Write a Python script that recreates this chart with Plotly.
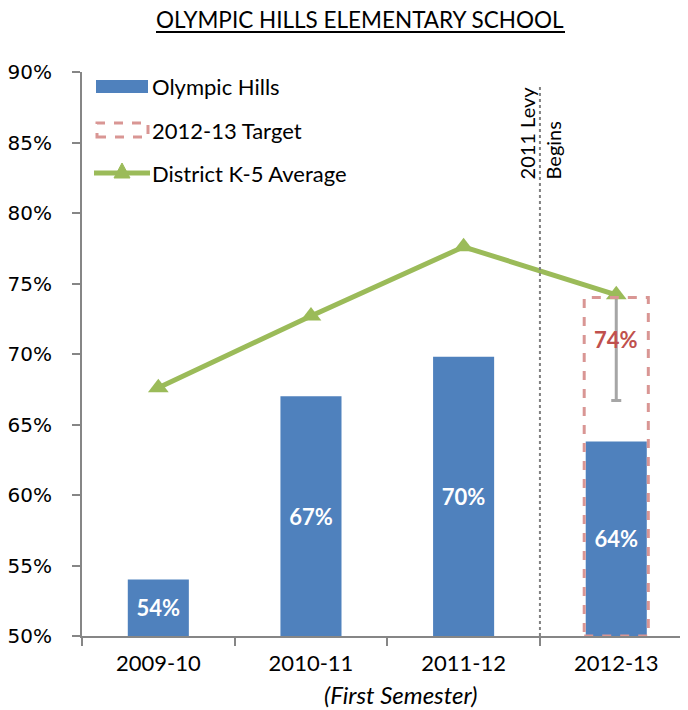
import plotly.graph_objects as go

years = ["2009-10", "2010-11", "2011-12", "2012-13"]
olympic_hills = [54.0, 67.0, 69.8, 63.8]
district_avg = [67.6, 72.7, 77.6, 74.2]
target_year = "2012-13"
target_value = 74.0
gap_low = 66.7  # bottom of the grey gap bar in 2012-13
levy_pos = 2.5  # between 2011-12 and 2012-13
y_ticks = [50, 55, 60, 65, 70, 75, 80, 85, 90]
y_min = 50

BLUE = "#4f81bd"
GREEN = "#9bbb59"
PINK = "#d99694"
RED = "#c0504d"
AXIS = "#868686"
FONT = "Lato"

# the page puts the figure 8px in from the top-left corner
OFF = 8
W, H = 688 - OFF, 710 - OFF
L, R, T, B = 82 - OFF, 0, 72 - OFF, 74
pw, ph = W - L - R, H - T - B


def px_x(x):
    # screen pixel -> paper coordinate
    return (x - OFF - L) / pw


def px_y(y):
    return (H - B - (y - OFF)) / ph


fig = go.Figure()

fig.add_trace(go.Bar(
    x=years, y=[v - y_min for v in olympic_hills], base=y_min, width=0.4,
    marker=dict(color=BLUE, line=dict(width=0)),
    text=[f"<b>{v:.0f}%</b>" for v in olympic_hills],
    texttemplate="%{text}", textposition="inside",
    insidetextanchor="middle", textangle=0,
    textfont=dict(color="white", size=22, family=FONT),
    showlegend=False, hoverinfo="skip",
))

# grey gap bar from district average down to the low point
ti = years.index(target_year)
fig.add_trace(go.Scatter(
    x=[target_year], y=[district_avg[ti]], mode="markers",
    marker=dict(size=1, color="rgba(0,0,0,0)"),
    error_y=dict(type="data", symmetric=False, array=[0],
                 arrayminus=[district_avg[ti] - gap_low],
                 color="#a6a6a6", thickness=3, width=5),
    showlegend=False, hoverinfo="skip",
))

fig.add_trace(go.Scatter(
    x=years, y=district_avg, mode="lines+markers",
    line=dict(color=GREEN, width=5),
    marker=dict(symbol="triangle-up", size=18, color=GREEN),
    showlegend=False, hoverinfo="skip",
))

# target dashed box
fig.add_shape(type="rect", xref="x", yref="y",
              x0=ti - 0.21, x1=ti + 0.21, y0=y_min, y1=target_value,
              line=dict(color=PINK, width=3, dash="dash"))
fig.add_annotation(x=target_year, y=71.0, text=f"<b>{target_value:.0f}%</b>",
                   showarrow=False, font=dict(color=RED, size=22, family=FONT))

# levy line
fig.add_shape(type="line", xref="x", yref="y", x0=levy_pos, x1=levy_pos,
              y0=y_min, y1=89.0, line=dict(color="#808080", width=2, dash="dot"))
fig.add_annotation(x=levy_pos, xref="x", y=px_y(181), yref="paper",
                   text="2011 Levy<br>Begins", textangle=-90, showarrow=False,
                   align="left", xanchor="center", yanchor="bottom",
                   font=dict(size=20, family=FONT, color="black"))

# legend drawn by hand
fig.add_shape(type="rect", xref="paper", yref="paper",
              x0=px_x(96), x1=px_x(148), y0=px_y(93), y1=px_y(80),
              fillcolor=BLUE, line=dict(width=0))
fig.add_shape(type="rect", xref="paper", yref="paper",
              x0=px_x(97), x1=px_x(148), y0=px_y(137), y1=px_y(123),
              line=dict(color=PINK, width=3, dash="dash"))
fig.add_shape(type="line", xref="paper", yref="paper",
              x0=px_x(94), x1=px_x(150), y0=px_y(173), y1=px_y(173),
              line=dict(color=GREEN, width=5))
fig.add_shape(type="path", xref="paper", yref="paper",
              path=f"M {px_x(114)} {px_y(178)} L {px_x(130)} {px_y(178)} "
                   f"L {px_x(122)} {px_y(163)} Z",
              fillcolor=GREEN, line=dict(color=GREEN, width=1))
for label, yy in [("Olympic Hills", 87), ("2012-13 Target", 130),
                  ("District K-5 Average", 173)]:
    fig.add_annotation(x=px_x(150), y=px_y(yy), xref="paper", yref="paper",
                       text=label, showarrow=False, xanchor="left",
                       yanchor="middle",
                       font=dict(size=22, family=FONT, color="black"))

fig.add_annotation(x=px_x(400), y=px_y(694), xref="paper", yref="paper",
                   text="<i>(First Semester)</i>", showarrow=False,
                   xanchor="center", yanchor="middle",
                   font=dict(size=24, family=FONT, color="black"))

# title with a drawn underline
fig.add_annotation(x=px_x(360), y=px_y(19), xref="paper", yref="paper",
                   text="OLYMPIC HILLS ELEMENTARY SCHOOL", showarrow=False,
                   xanchor="center", yanchor="middle",
                   font=dict(size=22.5, family=FONT, color="black"))
fig.add_shape(type="line", xref="paper", yref="paper",
              x0=px_x(156), x1=px_x(565), y0=px_y(32), y1=px_y(32),
              line=dict(color="black", width=2))

fig.update_layout(
    width=W, height=H,
    margin=dict(l=L, r=R, t=T, b=B),
    paper_bgcolor="white", plot_bgcolor="white",
    xaxis=dict(type="category", range=[-0.5, 3.47], tickson="boundaries",
               ticks="outside", ticklen=8, tickcolor=AXIS, tickwidth=2,
               showline=True, linecolor=AXIS, linewidth=2, showgrid=False,
               tickfont=dict(size=22, family=FONT, color="black"),
               ticklabelstandoff=7),
    yaxis=dict(range=[y_min, 90], tickmode="array", tickvals=y_ticks,
               ticktext=[f"{v}%" for v in y_ticks],
               ticks="outside", ticklen=8, tickcolor=AXIS, tickwidth=2,
               showline=True, linecolor=AXIS, linewidth=2, showgrid=False,
               zeroline=False,
               tickfont=dict(size=20, family="DejaVu Sans", color="black"),
               ticklabelstandoff=16),
    bargap=0.6,
)

fig.write_html("out.html")
